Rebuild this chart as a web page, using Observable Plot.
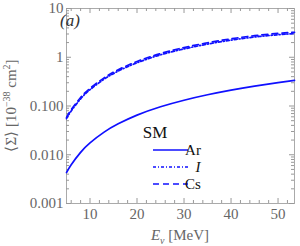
<!DOCTYPE html>
<html><head><meta charset="utf-8">
<script src="https://cdn.jsdelivr.net/npm/d3@7"></script>
<script src="https://cdn.jsdelivr.net/npm/@observablehq/plot@0.6"></script>
<style>body{margin:0;background:#fff}</style>
</head><body><div id="chart"></div>
<script>
// Data (SM cross sections, 10^-38 cm^2)
const energies = [5, 6, 8, 10, 13, 16, 20, 25, 30, 35, 40, 45, 50, 53.5];
const sigmaAr  = [0.0043, 0.00625, 0.0112, 0.0175, 0.0291, 0.043, 0.065, 0.0964, 0.1315, 0.170, 0.212, 0.256, 0.302, 0.336];
const sigmaI   = [0.055, 0.079, 0.140, 0.216, 0.355, 0.52, 0.77, 1.12, 1.48, 1.86, 2.24, 2.6, 2.9, 3.05];
const sigmaCs  = [0.058, 0.084, 0.149, 0.23, 0.378, 0.554, 0.82, 1.19, 1.58, 1.98, 2.39, 2.77, 3.08, 3.25];
const seriesNames = ["Ar", "I", "Cs"];
const xTicks = [10, 20, 30, 40, 50];
const xMinorTicks = [6, 8, 12, 14, 16, 18, 22, 24, 26, 28, 32, 34, 36, 38, 42, 44, 46, 48, 52];
const yTicks = [0.001, 0.01, 0.1, 1, 10];
const yTickLabels = ["0.001", "0.010", "0.100", "1", "10"];
const yMinorTicks = [];
[0.001, 0.01, 0.1, 1].forEach(d => { for (let k = 2; k <= 9; k++) yMinorTicks.push(+(d * k).toPrecision(3)); });

const series = [sigmaAr, sigmaI, sigmaCs];
const rows = seriesNames.map((s, j) => energies.map((e, i) => ({E: e, v: series[j][i], s})));

const W = 300, H = 246, mL = 66, mR = 6, mT = 8, mB = 43;
const iW = W - mL - mR, iH = H - mT - mB;
const tickC = "#999", blue = "#1010ff";
const maj = 5, mn = 3;

const plot = Plot.plot({
  width: W, height: H,
  marginLeft: mL, marginRight: mR, marginTop: mT, marginBottom: mB,
  style: {fontFamily: "Liberation Serif", fontSize: "15px", background: "white", overflow: "visible"},
  x: {domain: [5, 53.5]},
  y: {type: "log", domain: [0.001, 10]},
  marks: [
    Plot.frame({stroke: "#aaa"}),
    // x ticks bottom/top
    Plot.tickX(xTicks, {x: d => d, insetTop: iH - maj, stroke: tickC}),
    Plot.tickX(xMinorTicks, {x: d => d, insetTop: iH - mn, stroke: tickC}),
    Plot.tickX(xTicks, {x: d => d, insetBottom: iH - maj, stroke: tickC}),
    Plot.tickX(xMinorTicks, {x: d => d, insetBottom: iH - mn, stroke: tickC}),
    // y ticks left/right
    Plot.tickY(yTicks, {y: d => d, insetRight: iW - maj, stroke: tickC}),
    Plot.tickY(yMinorTicks, {y: d => d, insetRight: iW - mn, stroke: tickC}),
    Plot.tickY(yTicks, {y: d => d, insetLeft: iW - maj, stroke: tickC}),
    Plot.tickY(yMinorTicks, {y: d => d, insetLeft: iW - mn, stroke: tickC}),
    Plot.axisX(xTicks, {tickSize: 0, tickPadding: 5, fill: "#666", label: null}),
    Plot.axisY(yTicks, {tickSize: 0, tickPadding: 3, fill: "#666", label: null,
      tickFormat: d => yTickLabels[yTicks.indexOf(d)]}),
    Plot.line(rows[0], {x: "E", y: "v", stroke: blue, strokeWidth: 1.7, curve: "natural"}),
    Plot.line(rows[1], {x: "E", y: "v", stroke: blue, strokeWidth: 1.7, curve: "natural", strokeDasharray: "3,2,1,2"}),
    Plot.line(rows[2], {x: "E", y: "v", stroke: blue, strokeWidth: 1.7, curve: "natural", strokeDasharray: "6,4"})
  ]
});
document.getElementById("chart").appendChild(plot);

const svg = d3.select(plot);
// y label
const yl = svg.append("text")
  .attr("transform", `translate(16,${mT + iH / 2}) rotate(-90)`)
  .attr("text-anchor", "middle").attr("fill", "#666")
  .style("font-family", "Liberation Serif").style("font-size", "15px");
yl.append("tspan").text("⟨Σ⟩ [10");
yl.append("tspan").attr("dy", -6).style("font-size", "10px").text("−38");
yl.append("tspan").attr("dy", 6).text(" cm");
yl.append("tspan").attr("dy", -6).style("font-size", "10px").text("2");
yl.append("tspan").attr("dy", 6).text("]");
// x label
const xl = svg.append("text")
  .attr("x", mL + iW / 2).attr("y", 240)
  .attr("text-anchor", "middle").attr("fill", "#666")
  .style("font-family", "Liberation Serif").style("font-size", "15px");
xl.append("tspan").style("font-style", "italic").text("E");
xl.append("tspan").attr("dy", 4).style("font-style", "italic").style("font-size", "10px").text("ν");
xl.append("tspan").attr("dy", -4).text(" [MeV]");
// panel tag
svg.append("text").attr("x", 70).attr("y", 26)
  .style("font-family", "Liberation Serif").style("font-size", "17px").style("font-style", "italic")
  .attr("fill", "#333").text("(a)");
// legend
const lg = svg.append("g").style("font-family", "Liberation Serif").style("font-size", "15px").attr("fill", "#111");
lg.append("text").attr("x", 155).attr("y", 138).style("font-size", "17px").text("SM");
const dashes = [null, "3,2,1,2", "6,4"];
const ly = [150, 167, 184];
seriesNames.forEach((s, i) => {
  lg.append("line").attr("x1", 153).attr("x2", 188).attr("y1", ly[i]).attr("y2", ly[i])
    .attr("stroke", blue).attr("stroke-width", 1.7).attr("stroke-dasharray", dashes[i]);
  lg.append("text").attr("x", i === 1 ? 198 : 193).attr("y", ly[i] + 5)
    .style("font-style", i === 1 ? "italic" : "normal").text(s);
});
</script>
</body></html>
